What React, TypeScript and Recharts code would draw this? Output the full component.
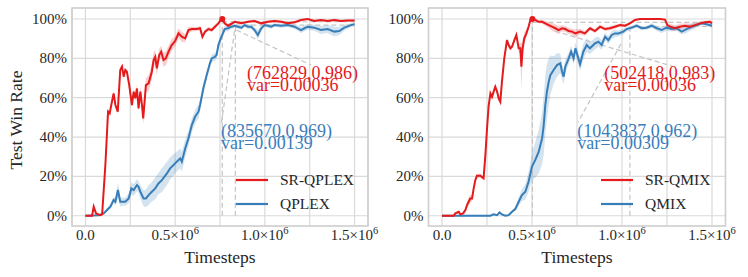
import React from 'react';
import {
  ComposedChart, Line, Area, XAxis, YAxis, CartesianGrid,
  ReferenceLine, ReferenceDot, ReferenceArea, Legend,
} from 'recharts';

const RED = '#e41a1c';
const BLUE = '#377eb8';
const FONT = "'Liberation Serif', 'Times New Roman', 'DejaVu Serif', serif";
const TXT = '#262626';

const X_TICKS = [0, 250000, 500000, 750000, 1000000, 1250000, 1500000];
const Y_TICKS = [0, 0.2, 0.4, 0.6, 0.8, 1.0];
const X_DOMAIN = [-75000, 1575000];
const Y_DOMAIN = [-0.052, 1.056];

// ---------- Left panel: SR-QPLEX vs QPLEX (timesteps in thousands) ----------
const srQplexSteps = [0, 37, 46, 59, 83, 93, 111, 126, 135, 144, 157, 167, 180, 194, 204, 213, 222, 231, 244, 259, 269, 278, 287, 296, 306, 315, 322, 337, 352, 370, 380, 389, 398, 411, 422, 435, 448, 463, 481, 500, 519, 537, 556, 574, 593, 620, 639, 652, 667, 685, 704, 722, 741, 754, 763, 776, 795, 832, 869, 906, 943, 980, 1017, 1054, 1091, 1128, 1165, 1202, 1239, 1276, 1313, 1350, 1387, 1424, 1461, 1500];
const srQplexWin = [0, 0, 0.046, 0.012, 0.003, 0.007, 0.258, 0.529, 0.520, 0.563, 0.622, 0.563, 0.529, 0.741, 0.758, 0.707, 0.741, 0.732, 0.664, 0.563, 0.631, 0.597, 0.647, 0.546, 0.631, 0.563, 0.495, 0.664, 0.673, 0.732, 0.792, 0.808, 0.749, 0.817, 0.834, 0.792, 0.800, 0.834, 0.868, 0.888, 0.927, 0.910, 0.902, 0.944, 0.949, 0.949, 0.953, 0.910, 0.936, 0.949, 0.944, 0.961, 0.978, 0.995, 1.0, 0.978, 0.966, 0.986, 0.978, 0.986, 0.990, 0.978, 0.986, 0.990, 0.986, 0.978, 0.983, 0.995, 1.0, 0.990, 0.995, 0.990, 0.995, 0.990, 0.992, 0.992];
const srQplexSpread = [0.002, 0.002, 0.015, 0.005, 0.002, 0.003, 0.01, 0.015, 0.012, 0.01, 0.012, 0.012, 0.012, 0.012, 0.01, 0.012, 0.01, 0.01, 0.012, 0.015, 0.015, 0.015, 0.02, 0.02, 0.025, 0.03, 0.03, 0.035, 0.04, 0.04, 0.04, 0.035, 0.035, 0.03, 0.03, 0.035, 0.035, 0.03, 0.03, 0.025, 0.025, 0.025, 0.02, 0.015, 0.012, 0.01, 0.01, 0.012, 0.01, 0.01, 0.01, 0.01, 0.008, 0.006, 0.005, 0.008, 0.01, 0.006, 0.006, 0.006, 0.006, 0.008, 0.006, 0.006, 0.006, 0.008, 0.008, 0.006, 0.004, 0.006, 0.006, 0.006, 0.006, 0.006, 0.006, 0.006];

const qplexSteps = [0, 74, 102, 120, 139, 157, 167, 181, 194, 204, 222, 241, 256, 269, 287, 296, 306, 324, 337, 352, 370, 389, 407, 426, 454, 472, 491, 509, 528, 537, 556, 574, 593, 611, 630, 639, 648, 657, 676, 694, 704, 722, 731, 741, 754, 776, 795, 813, 832, 850, 869, 887, 906, 924, 943, 961, 980, 998, 1017, 1035, 1054, 1091, 1128, 1165, 1202, 1221, 1239, 1276, 1313, 1350, 1387, 1415, 1443, 1480, 1500];
const qplexWin = [0, 0.003, 0.012, 0.029, 0.046, 0.080, 0.071, 0.131, 0.071, 0.071, 0.071, 0.088, 0.139, 0.131, 0.156, 0.147, 0.122, 0.088, 0.088, 0.105, 0.122, 0.139, 0.164, 0.181, 0.215, 0.241, 0.258, 0.275, 0.292, 0.275, 0.342, 0.393, 0.461, 0.503, 0.529, 0.563, 0.605, 0.647, 0.715, 0.775, 0.800, 0.808, 0.817, 0.868, 0.900, 0.949, 0.953, 0.961, 0.966, 0.961, 0.956, 0.969, 0.961, 0.961, 0.944, 0.919, 0.953, 0.969, 0.966, 0.961, 0.969, 0.966, 0.969, 0.961, 0.944, 0.953, 0.961, 0.956, 0.944, 0.949, 0.936, 0.939, 0.956, 0.969, 0.973];
const qplexSpread = [0.002, 0.003, 0.005, 0.01, 0.012, 0.015, 0.02, 0.04, 0.025, 0.02, 0.02, 0.025, 0.03, 0.03, 0.03, 0.03, 0.035, 0.04, 0.045, 0.05, 0.05, 0.055, 0.055, 0.06, 0.06, 0.055, 0.055, 0.05, 0.05, 0.05, 0.045, 0.04, 0.035, 0.035, 0.035, 0.03, 0.025, 0.025, 0.02, 0.02, 0.02, 0.02, 0.02, 0.02, 0.02, 0.015, 0.012, 0.012, 0.01, 0.01, 0.012, 0.01, 0.012, 0.012, 0.015, 0.025, 0.015, 0.01, 0.01, 0.01, 0.01, 0.01, 0.01, 0.012, 0.015, 0.015, 0.015, 0.015, 0.02, 0.02, 0.025, 0.02, 0.015, 0.01, 0.01];

// ---------- Right panel: SR-QMIX vs QMIX (timesteps in thousands) ----------
const srQmixSteps = [0, 65, 74, 93, 102, 117, 130, 139, 148, 157, 167, 176, 185, 194, 213, 231, 241, 250, 259, 269, 278, 287, 296, 306, 315, 324, 333, 346, 361, 370, 380, 389, 402, 413, 426, 435, 441, 448, 457, 469, 481, 491, 500, 519, 537, 556, 574, 593, 611, 630, 648, 667, 685, 704, 722, 741, 767, 794, 822, 850, 878, 906, 933, 961, 989, 1017, 1044, 1072, 1100, 1156, 1211, 1239, 1252, 1267, 1294, 1322, 1350, 1378, 1406, 1433, 1461, 1489, 1500];
const srQmixWin = [0, 0, 0.012, 0.020, 0.007, 0.012, 0.029, 0.054, 0.071, 0.088, 0.088, 0.139, 0.181, 0.203, 0.203, 0.190, 0.308, 0.441, 0.559, 0.622, 0.605, 0.631, 0.656, 0.631, 0.597, 0.580, 0.681, 0.800, 0.893, 0.868, 0.851, 0.859, 0.893, 0.919, 0.851, 0.851, 0.758, 0.851, 0.902, 0.927, 0.961, 0.995, 1.0, 0.995, 0.986, 0.986, 0.978, 0.969, 0.961, 0.953, 0.944, 0.953, 0.949, 0.939, 0.936, 0.927, 0.936, 0.927, 0.953, 0.939, 0.961, 0.949, 0.953, 0.961, 0.969, 0.966, 0.978, 0.995, 1.0, 1.0, 1.0, 0.997, 0.969, 0.961, 0.953, 0.961, 0.966, 0.961, 0.969, 0.978, 0.983, 0.986, 0.978];
const srQmixSpread = [0.002, 0.002, 0.005, 0.008, 0.005, 0.006, 0.01, 0.015, 0.02, 0.02, 0.015, 0.015, 0.012, 0.01, 0.01, 0.01, 0.015, 0.02, 0.015, 0.012, 0.015, 0.012, 0.012, 0.012, 0.015, 0.015, 0.015, 0.015, 0.01, 0.01, 0.01, 0.01, 0.01, 0.01, 0.02, 0.03, 0.12, 0.04, 0.03, 0.02, 0.01, 0.005, 0.005, 0.005, 0.008, 0.01, 0.012, 0.015, 0.02, 0.02, 0.02, 0.015, 0.015, 0.015, 0.015, 0.02, 0.015, 0.012, 0.01, 0.01, 0.01, 0.01, 0.01, 0.01, 0.008, 0.008, 0.006, 0.003, 0.002, 0.002, 0.002, 0.003, 0.01, 0.015, 0.015, 0.015, 0.012, 0.015, 0.012, 0.01, 0.008, 0.008, 0.008];

const qmixSteps = [0, 120, 157, 250, 269, 287, 306, 320, 333, 352, 370, 389, 407, 426, 444, 463, 481, 500, 519, 537, 556, 565, 574, 583, 593, 602, 620, 639, 657, 667, 676, 685, 704, 717, 731, 741, 767, 785, 804, 822, 850, 869, 887, 906, 924, 943, 961, 980, 1007, 1026, 1054, 1081, 1109, 1137, 1165, 1193, 1220, 1248, 1276, 1304, 1331, 1359, 1387, 1415, 1443, 1470, 1500];
const qmixWin = [0, 0, 0, 0, 0, 0.007, 0.003, 0.017, 0.007, 0, 0.003, 0.020, 0.034, 0.071, 0.105, 0.122, 0.173, 0.250, 0.285, 0.325, 0.393, 0.461, 0.563, 0.631, 0.681, 0.715, 0.741, 0.766, 0.775, 0.732, 0.707, 0.758, 0.800, 0.834, 0.800, 0.851, 0.770, 0.834, 0.868, 0.851, 0.876, 0.885, 0.868, 0.910, 0.893, 0.919, 0.927, 0.927, 0.936, 0.949, 0.956, 0.966, 0.953, 0.956, 0.966, 0.953, 0.944, 0.956, 0.949, 0.953, 0.936, 0.949, 0.961, 0.969, 0.978, 0.973, 0.966];
const qmixSpread = [0.002, 0.002, 0.003, 0.002, 0.002, 0.005, 0.003, 0.005, 0.005, 0.003, 0.005, 0.008, 0.01, 0.02, 0.03, 0.04, 0.05, 0.07, 0.09, 0.11, 0.13, 0.15, 0.15, 0.14, 0.12, 0.1, 0.07, 0.06, 0.05, 0.04, 0.04, 0.035, 0.03, 0.03, 0.03, 0.03, 0.035, 0.04, 0.035, 0.03, 0.03, 0.025, 0.025, 0.02, 0.02, 0.02, 0.02, 0.015, 0.015, 0.012, 0.01, 0.01, 0.01, 0.01, 0.012, 0.012, 0.015, 0.015, 0.012, 0.012, 0.015, 0.02, 0.015, 0.012, 0.01, 0.01, 0.01];

// ---------- annotation values ----------
const leftRedPoint = [762829, 0.986];
const leftBluePoint = [835670, 0.969];
const leftRedText = ['(762829,0.986)', 'var=0.00036'];
const leftBlueText = ['(835670,0.969)', 'var=0.00139'];
const rightRedPoint = [502418, 0.983];
const rightBluePoint = [1043837, 0.962];
const rightRedText = ['(502418,0.983)', 'var=0.00036'];
const rightBlueText = ['(1043837,0.962)', 'var=0.00309'];

function build(steps: number[], vals: number[], spread: number[]) {
  return steps.map((s, i) => ({
    x: s * 1000,
    y: vals[i],
    band: [vals[i] - spread[i], vals[i] + spread[i]],
  }));
}

const XTick = (props: any) => {
  const { x, y, payload } = props;
  const v = payload.value;
  if (v % 500000 !== 0) return <g />;
  const m = v / 1e6;
  if (v === 0) {
    return (
      <text x={x} y={y + 13.5} textAnchor="middle" fontSize={15} fontFamily={FONT} fill={TXT}>0.0</text>
    );
  }
  return (
    <text x={x} y={y + 13.5} textAnchor="middle" fontSize={15} fontFamily={FONT} fill={TXT}>
      {`${m.toFixed(1)}×10`}
      <tspan dy={-6} fontSize={10.5}>6</tspan>
    </text>
  );
};

const YTick = (props: any) => {
  const { x, y, payload } = props;
  return (
    <text x={x} y={y + 5} textAnchor="end" fontSize={15} fontFamily={FONT} fill={TXT}>
      {`${Math.round(payload.value * 100)}%`}
    </text>
  );
};

const textShape = (lines: string[], color: string) => (p: any) => (
  <g>
    <text x={p.cx} y={p.cy} fontSize={18} fontFamily={FONT} fill={color}>{lines[0]}</text>
    <text x={p.cx} y={p.cy + 12} fontSize={18} fontFamily={FONT} fill={color}>{lines[1]}</text>
  </g>
);

const makeLegend = (order: string[]) => (props: any) => {
  const items = (props.payload || [])
    .filter((e: any) => order.includes(e.value))
    .sort((a: any, b: any) => order.indexOf(a.value) - order.indexOf(b.value));
  return (
    <svg width={150} height={50} style={{ overflow: 'visible' }}>
      {items.map((e: any, i: number) => (
        <g key={i}>
          <line x1={0} x2={32} y1={12 + i * 24} y2={12 + i * 24} stroke={e.color} strokeWidth={2.2} />
          <text x={44} y={17 + i * 24} fontSize={15.5} fontFamily={FONT} fill={TXT}>{e.value}</text>
        </g>
      ))}
    </svg>
  );
};

const DASH = { stroke: '#c4c4c4', strokeDasharray: '5 3', strokeWidth: 1.2 };

type PanelProps = {
  yAxisWidth: number;
  marginRight: number;
  redData: any[];
  blueData: any[];
  redName: string;
  blueName: string;
  redPoint: number[];
  bluePoint: number[];
  redText: string[];
  blueText: string[];
  redTextAt: number[];
  blueTextAt: number[];
  redArrow: number[][];
  blueArrow: number[][];
  legendLeft: number;
};

function Panel(p: PanelProps) {
  return (
    <ComposedChart width={374} height={277} margin={{ top: 8, right: p.marginRight, bottom: 0, left: 0 }}>
      <CartesianGrid stroke="#dadada" strokeWidth={1.2} />
      <XAxis
        type="number" dataKey="x" domain={X_DOMAIN} ticks={X_TICKS} allowDataOverflow
        axisLine={false} tickLine={false} tickSize={0} tickMargin={0} height={51} interval={0}
        tick={XTick}
      />
      <YAxis
        type="number" domain={Y_DOMAIN} ticks={Y_TICKS} allowDataOverflow
        axisLine={false} tickLine={false} tickSize={0} tickMargin={5} width={p.yAxisWidth} interval={0}
        tick={YTick}
      />
      <ReferenceArea x1={X_DOMAIN[0]} x2={X_DOMAIN[1]} y1={Y_DOMAIN[0]} y2={Y_DOMAIN[1]}
        fill="none" stroke="#cfcfcf" strokeWidth={1.6} ifOverflow="visible" />
      <ReferenceLine segment={[{ x: p.redPoint[0], y: 0 }, { x: p.redPoint[0], y: p.redPoint[1] }]} {...DASH} />
      <ReferenceLine segment={[{ x: p.bluePoint[0], y: 0 }, { x: p.bluePoint[0], y: p.bluePoint[1] }]} {...DASH} />
      <ReferenceLine segment={[{ x: p.redPoint[0], y: p.redPoint[1] }, { x: 1500000, y: p.redPoint[1] }]} {...DASH} />
      <ReferenceLine segment={[{ x: p.bluePoint[0], y: p.bluePoint[1] }, { x: 1500000, y: p.bluePoint[1] }]} {...DASH} />
      <ReferenceLine segment={[{ x: p.redArrow[0][0], y: p.redArrow[0][1] }, { x: p.redArrow[1][0], y: p.redArrow[1][1] }]} {...DASH} />
      <ReferenceLine segment={[{ x: p.blueArrow[0][0], y: p.blueArrow[0][1] }, { x: p.blueArrow[1][0], y: p.blueArrow[1][1] }]} {...DASH} />

      <Area data={p.redData} dataKey="band" type="linear" fill={RED} fillOpacity={0.22} stroke="none"
        isAnimationActive={false} legendType="none" activeDot={false} />
      <Area data={p.blueData} dataKey="band" type="linear" fill={BLUE} fillOpacity={0.22} stroke="none"
        isAnimationActive={false} legendType="none" activeDot={false} />
      <Line data={p.blueData} dataKey="y" name={p.blueName} type="linear" stroke={BLUE} strokeWidth={2}
        dot={false} isAnimationActive={false} activeDot={false} />
      <Line data={p.redData} dataKey="y" name={p.redName} type="linear" stroke={RED} strokeWidth={2}
        dot={false} isAnimationActive={false} activeDot={false} />

      <ReferenceDot x={p.redPoint[0]} y={1.0} r={3} fill={RED} stroke="none" />
      <ReferenceDot x={p.redTextAt[0]} y={p.redTextAt[1]} r={0} shape={textShape(p.redText, RED)} ifOverflow="visible" />
      <ReferenceDot x={p.blueTextAt[0]} y={p.blueTextAt[1]} r={0} shape={textShape(p.blueText, '#3a7dbd')} ifOverflow="visible" />

      <Legend
        layout="vertical" align="center" verticalAlign="middle"
        content={makeLegend([p.redName, p.blueName])}
        wrapperStyle={{ position: 'absolute', left: p.legendLeft, top: 168, width: 150, height: 50 }}
      />
    </ComposedChart>
  );
}

export default function App() {
  const leftRed = build(srQplexSteps, srQplexWin, srQplexSpread);
  const leftBlue = build(qplexSteps, qplexWin, qplexSpread);
  const rightRed = build(srQmixSteps, srQmixWin, srQmixSpread);
  const rightBlue = build(qmixSteps, qmixWin, qmixSpread);

  const titleStyle: React.CSSProperties = {
    position: 'absolute', fontFamily: FONT, fontSize: 17.5, color: TXT,
    whiteSpace: 'nowrap', lineHeight: 1, transform: 'translate(-50%, -50%)',
  };

  return (
    <div style={{ position: 'absolute', left: 0, top: 0, width: 748, height: 277, background: '#fff' }}>
      <style>{'svg{overflow:visible}'}</style>
      <div style={{ position: 'absolute', left: 0, top: 0 }}>
        <Panel
          yAxisWidth={72} marginRight={6}
          redData={leftRed} blueData={leftBlue}
          redName="SR-QPLEX" blueName="QPLEX"
          redPoint={leftRedPoint} bluePoint={leftBluePoint}
          redText={leftRedText} blueText={leftBlueText}
          redTextAt={[900000, 0.695]} blueTextAt={[756000, 0.402]}
          redArrow={[[841000, 0.944], [1258000, 0.766]]}
          blueArrow={[[831000, 0.94], [757000, 0.465]]}
          legendLeft={236}
        />
      </div>
      <div style={{ position: 'absolute', left: 374, top: 0 }}>
        <Panel
          yAxisWidth={54.5} marginRight={22.5}
          redData={rightRed} blueData={rightBlue}
          redName="SR-QMIX" blueName="QMIX"
          redPoint={rightRedPoint} bluePoint={rightBluePoint}
          redText={rightRedText} blueText={rightBlueText}
          redTextAt={[902000, 0.695]} blueTextAt={[752000, 0.402]}
          redArrow={[[628000, 0.939], [1294000, 0.756]]}
          blueArrow={[[994000, 0.873], [756000, 0.476]]}
          legendLeft={227}
        />
      </div>
      <div style={{ ...titleStyle, left: 16.5, top: 119.5, transform: 'translate(-50%, -50%) rotate(-90deg)' }}>Test Win Rate</div>
      <div style={{ ...titleStyle, left: 220, top: 258 }}>Timesteps</div>
      <div style={{ ...titleStyle, left: 577, top: 258 }}>Timesteps</div>
    </div>
  );
}
